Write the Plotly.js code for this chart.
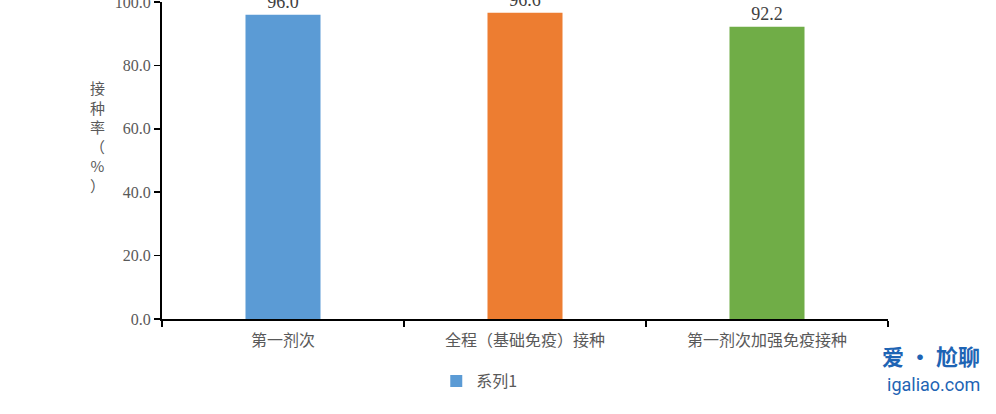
<!DOCTYPE html>
<html>
<head>
<meta charset="utf-8">
<script src="https://cdn.plot.ly/plotly-3.0.1.min.js"></script>
<style>html,body{margin:0;padding:0;background:#fff;}#chart{width:996px;height:414px;}</style>
</head>
<body>
<div id="chart"></div>
<script>
const categories = ["第一剂次", "全程（基础免疫）接种", "第一剂次加强免疫接种"];
const values = [96.0, 96.6, 92.2];
const barColors = ["#5B9BD5", "#ED7D31", "#70AD47"];
const seriesName = "系列1";
const yTitleChars = ["接", "种", "率", "（", "%", "）"];

const trace = {
  type: "bar",
  x: categories,
  y: values,
  name: seriesName,
  marker: {color: barColors},
  width: 0.31,
  text: values.map(v => v.toFixed(1)),
  textposition: "outside",
  cliponaxis: false,
  textfont: {family: "Liberation Serif, serif", size: 18, color: "#404040"},
  showlegend: true,
  hoverinfo: "skip"
};

const layout = {
  width: 996, height: 414,
  margin: {l: 162, r: 108, t: 2, b: 95},
  paper_bgcolor: "#fff", plot_bgcolor: "#fff",
  xaxis: {
    showline: true, linecolor: "#000", linewidth: 2,
    ticks: "outside", tickcolor: "#000", ticklen: 6, tickwidth: 1.5,
    tickson: "boundaries",
    ticklabelstandoff: 6,
    tickfont: {family: "Noto Sans CJK SC, sans-serif", size: 16, color: "#595959"},
    showgrid: false, zeroline: false
  },
  yaxis: {
    range: [0, 100], dtick: 20, tickformat: ".1f",
    showline: true, linecolor: "#000", linewidth: 2,
    ticks: "outside", tickcolor: "#000", ticklen: 6, tickwidth: 1.5,
    ticklabeloverflow: "allow",
    tickfont: {family: "Liberation Serif, serif", size: 16, color: "#595959"},
    showgrid: false, zeroline: false
  },
  legend: {
    orientation: "h", x: 0.437, xanchor: "center", y: -0.196, yanchor: "middle",
    itemwidth: 30,
    font: {family: "Noto Sans CJK SC, sans-serif", size: 16, color: "#595959"}
  },
  annotations: [
    {
      xref: "paper", yref: "paper", x: -0.0895, y: 0.575, xanchor: "center", yanchor: "middle",
      text: yTitleChars.join("<br>"), showarrow: false,
      font: {family: "Noto Sans CJK SC, sans-serif", size: 15, color: "#595959"}
    },
    {
      xref: "paper", yref: "paper", x: 1.1295, y: -0.113, xanchor: "right", yanchor: "middle",
      text: "<b>爱 · 尬聊</b>", showarrow: false,
      font: {family: "Noto Sans CJK SC, sans-serif", size: 22, color: "#1E64B4"}
    },
    {
      xref: "paper", yref: "paper", x: 1.1295, y: -0.208, xanchor: "right", yanchor: "middle",
      text: "igaliao.com", showarrow: false,
      font: {family: "Roboto, sans-serif", size: 18, color: "#1E64B4"}
    }
  ]
};

Plotly.newPlot("chart", [trace], layout, {displayModeBar: false, staticPlot: true});
</script>
</body>
</html>
